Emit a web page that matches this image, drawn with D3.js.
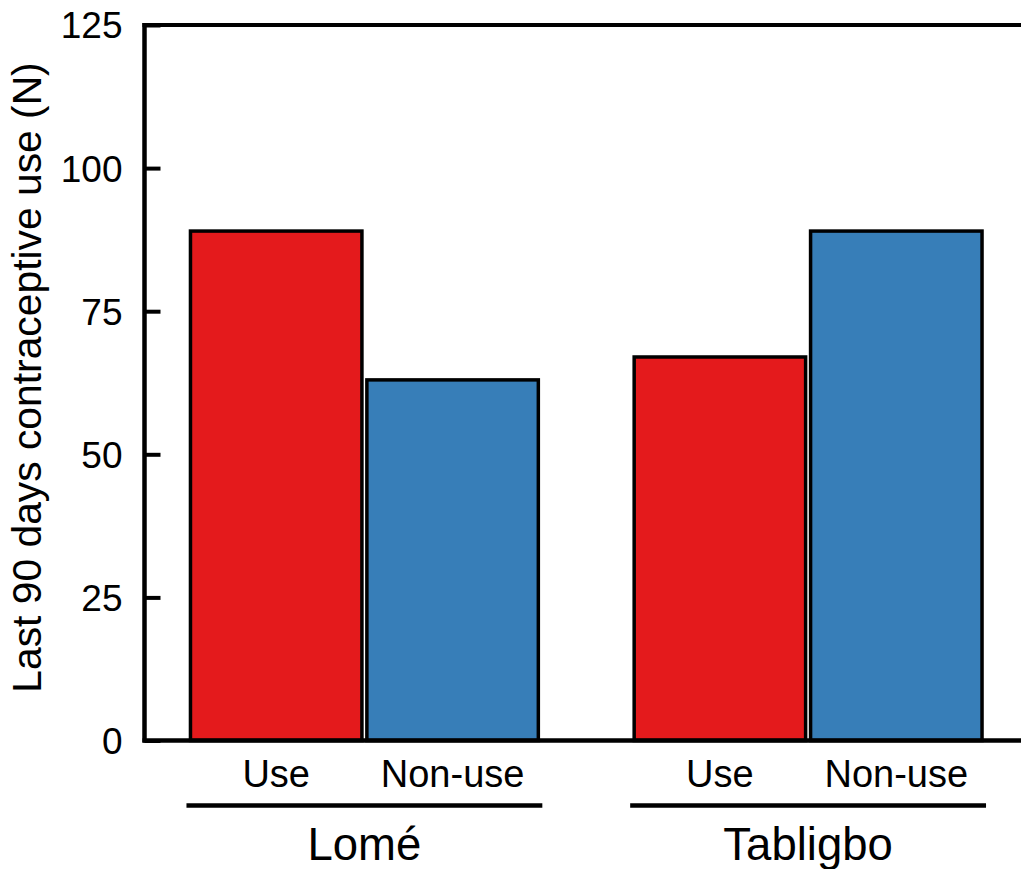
<!DOCTYPE html>
<html>
<head>
<meta charset="utf-8">
<script src="https://cdn.jsdelivr.net/npm/d3@7"></script>
<style>
html,body{margin:0;padding:0;background:#fff;}
svg{display:block;font-family:"Liberation Sans",Arial,sans-serif;}
</style>
</head>
<body>
<svg id="chart" width="1021" height="869"></svg>
<script>
const groups = ["Lomé", "Tabligbo"];
const subgroups = ["Use", "Non-use"];
const lomeValues = [89, 63];
const tabligboValues = [67, 89];
const yTicks = [0, 25, 50, 75, 100, 125];
const yTitle = "Last 90 days contraceptive use (N)";
const colors = ["#E41A1C", "#377EB8"];

(function () {
const valuesByGroup = {"Lomé": lomeValues, "Tabligbo": tabligboValues};
const data = [];
groups.forEach(g => subgroups.forEach((s, i) => data.push({group: g, sub: s, value: valuesByGroup[g][i]})));

const svg = d3.select("#chart");
const mLeft = 144.5, mRight = 1028, mTop = 25, mBottom = 740.5;

const y = d3.scaleLinear().domain([0, 125]).range([mBottom, mTop]);
const x0 = d3.scaleBand().domain(groups).range([mLeft, mRight]).paddingInner(0.216).paddingOuter(0.1036);
const x1 = d3.scaleBand().domain(subgroups).range([0, x0.bandwidth()]).paddingInner(0.028).paddingOuter(0);
const color = d3.scaleOrdinal().domain(subgroups).range(colors);

// bars
svg.append("g").selectAll("rect").data(data).join("rect")
  .attr("x", d => x0(d.group) + x1(d.sub))
  .attr("y", d => y(d.value))
  .attr("width", x1.bandwidth())
  .attr("height", d => y(0) - y(d.value))
  .attr("fill", d => color(d.sub))
  .attr("stroke", "#000")
  .attr("stroke-width", 3.5);

// y axis
const yAxis = d3.axisLeft(y).tickValues(yTicks).tickSize(-16).tickPadding(22).tickSizeOuter(0);
const ya = svg.append("g").attr("transform", `translate(${mLeft},0)`).call(yAxis);
ya.select(".domain").remove();
ya.selectAll(".tick line").attr("stroke", "#000").attr("stroke-width", 4);
ya.selectAll(".tick text").attr("font-size", 37).attr("fill", "#000")
  .attr("font-family", "Liberation Sans, Arial, sans-serif").attr("dy", "0.35em");

// frame lines
svg.append("line").attr("x1", mLeft).attr("x2", mLeft).attr("y1", mTop - 2).attr("y2", mBottom + 2)
  .attr("stroke", "#000").attr("stroke-width", 4.5);
svg.append("line").attr("x1", mLeft - 2).attr("x2", mRight).attr("y1", mTop).attr("y2", mTop)
  .attr("stroke", "#000").attr("stroke-width", 4);
svg.append("line").attr("x1", mLeft - 2).attr("x2", mRight).attr("y1", mBottom).attr("y2", mBottom)
  .attr("stroke", "#000").attr("stroke-width", 4.5);

// subgroup labels
svg.append("g").selectAll("text").data(data).join("text")
  .attr("x", d => x0(d.group) + x1(d.sub) + x1.bandwidth() / 2)
  .attr("y", 787)
  .attr("text-anchor", "middle")
  .attr("font-size", 38)
  .text(d => d.sub);

// group underlines and labels
const gg = svg.append("g").selectAll("g").data(groups).join("g");
gg.append("line")
  .attr("x1", d => x0(d) - 4)
  .attr("x2", d => x0(d) + x0.bandwidth() + 4)
  .attr("y1", 805.5).attr("y2", 805.5)
  .attr("stroke", "#000").attr("stroke-width", 4.5);
gg.append("text")
  .attr("x", d => x0(d) + x0.bandwidth() / 2)
  .attr("y", 860)
  .attr("text-anchor", "middle")
  .attr("font-size", 45.5)
  .text(d => d);

// y title
svg.append("text")
  .attr("transform", `translate(41,${(62 + 693) / 2}) rotate(-90)`)
  .attr("text-anchor", "middle")
  .attr("font-size", 40.8)
  .text(yTitle);
})();
</script>
</body>
</html>
